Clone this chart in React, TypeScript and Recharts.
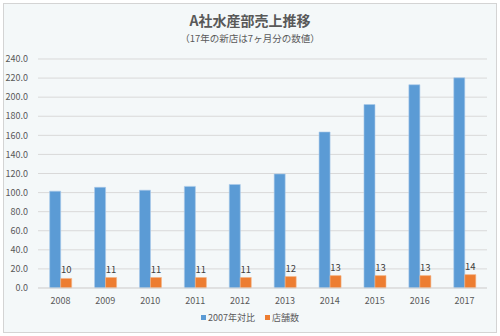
import React from 'react';
import { BarChart, Bar, XAxis, YAxis, CartesianGrid, LabelList } from 'recharts';

const years = ['2008', '2009', '2010', '2011', '2012', '2013', '2014', '2015', '2016', '2017'];
const ratio2007 = [101.5, 105.5, 102.5, 106.5, 108.5, 119.5, 163.5, 192.3, 213, 220.3];
const storeCount = [10, 11, 11, 11, 11, 12, 13, 13, 13, 14];
const yTicks = [0, 20, 40, 60, 80, 100, 120, 140, 160, 180, 200, 220, 240];

const data = years.map((y, i) => ({ year: y, ratio: ratio2007[i], stores: storeCount[i] }));

const FONT = '"Noto Sans CJK JP", "Noto Sans", sans-serif';
const BLUE = '#5b9bd5';
const ORANGE = '#ed7d31';
const TEXT = '#595959';

export default function App() {
  return (
    <div style={{ position: 'absolute', left: 0, top: 0, width: 500, height: 336, fontFamily: FONT }}>
      <div
        style={{
          position: 'absolute', left: 3, top: 3, width: 492, height: 328,
          border: '1px solid #d4d4d4', background: '#f4f8f9',
        }}
      />
      <div style={{ position: 'absolute', left: 0, top: 10, width: 500, textAlign: 'center', fontSize: 14, fontWeight: 'bold', color: TEXT }}>
        A社水産部売上推移
      </div>
      <div style={{ position: 'absolute', left: 0, top: 31, width: 500, textAlign: 'center', fontSize: 9.5, color: TEXT }}>
        （17年の新店は7ヶ月分の数値）
      </div>
      <div style={{ position: 'absolute', left: 0, top: 0 }}>
        <BarChart
          width={500}
          height={336}
          data={data}
          margin={{ top: 59, right: 13, bottom: 28, left: 0 }}
          barCategoryGap="26%"
          barGap={0}
        >
          <CartesianGrid vertical={false} stroke="#d9d9d9" />
          <XAxis
            dataKey="year"
            axisLine={{ stroke: '#d9d9d9' }}
            tickLine={false}
            height={20}
            tick={{ fontSize: 9, fill: TEXT, fontFamily: FONT }}
            tickMargin={4}
          />
          <YAxis
            width={38}
            domain={[0, 240]}
            ticks={yTicks}
            interval={0}
            axisLine={false}
            tickLine={false}
            tickFormatter={(v: number) => v.toFixed(1)}
            tick={{ fontSize: 9, fill: TEXT, fontFamily: FONT, dx: -2 }}
          />
          <Bar dataKey="ratio" fill={BLUE} stroke="#a9c9ea" strokeWidth={0.6} isAnimationActive={false} />
          <Bar dataKey="stores" fill={ORANGE} stroke="#f4b183" strokeWidth={0.6} isAnimationActive={false}>
            <LabelList dataKey="stores" position="top" style={{ fontSize: 9.5, fill: '#404040', fontFamily: FONT }} />
          </Bar>
        </BarChart>
      </div>
      <div style={{ position: 'absolute', left: 0, top: 311, width: 500, display: 'flex', justifyContent: 'center', alignItems: 'center', fontSize: 9, color: TEXT }}>
        <span style={{ display: 'inline-block', width: 5, height: 5, background: BLUE, marginRight: 2 }} />
        <span style={{ marginRight: 10 }}>2007年対比</span>
        <span style={{ display: 'inline-block', width: 5, height: 5, background: ORANGE, marginRight: 2 }} />
        <span>店舗数</span>
      </div>
    </div>
  );
}
